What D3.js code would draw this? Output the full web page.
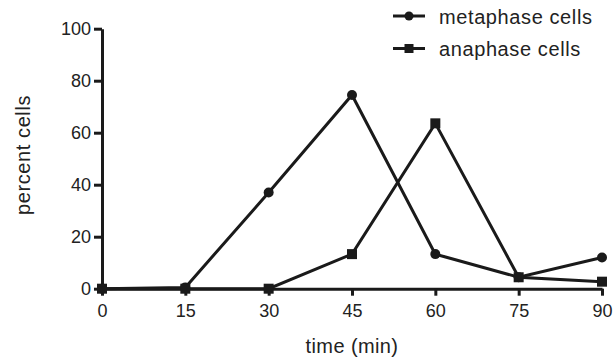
<!DOCTYPE html>
<html><head><meta charset="utf-8">
<script src="https://cdn.jsdelivr.net/npm/d3@7"></script>
<style>body{margin:0;background:#fff}svg{display:block}text{font-family:"Liberation Sans",Arial,sans-serif;fill:#222}</style>
</head><body><svg id="c" width="616" height="364"></svg>
<script>
const times = [0, 15, 30, 45, 60, 75, 90];
const metaphase = [0, 0.5, 37, 74.5, 13.3, 4.4, 12];
const anaphase = [0, 0, 0, 13.3, 63.6, 4.4, 2.7];
const yTicks = [0, 20, 40, 60, 80, 100];
const seriesNames = ["metaphase cells", "anaphase cells"];

const svg = d3.select("#c");
const x = d3.scaleLinear().domain([0, 90]).range([102, 602]);
const y = d3.scaleLinear().domain([0, 100]).range([288.7, 28.7]);
const col = "#1a1a1a";
const ff = '"Liberation Sans",Arial,sans-serif';

const xAxis = svg.append("g").attr("transform", `translate(0,${y(0)})`)
  .call(d3.axisBottom(x).tickValues(times).tickSize(7).tickPadding(9).tickSizeOuter(0));
const yAxis = svg.append("g").attr("transform", `translate(${x(0)},0)`)
  .call(d3.axisLeft(y).tickValues(yTicks).tickSize(8).tickPadding(3).tickSizeOuter(0));
[xAxis, yAxis].forEach(a => {
  a.select(".domain").attr("stroke", col).attr("stroke-width", 3);
  a.selectAll(".tick line").attr("stroke", col).attr("stroke-width", 3);
  a.selectAll(".tick text").attr("fill", "#222").style("font-size", "18px").style("font-family", ff);
});

const line = d3.line().x((d, i) => x(times[i])).y(d => y(d));
[metaphase, anaphase].forEach(s => {
  svg.append("path").datum(s).attr("d", line).attr("fill", "none")
    .attr("stroke", col).attr("stroke-width", 3).attr("stroke-linejoin", "miter");
});
svg.append("g").selectAll("circle").data(metaphase).join("circle")
  .attr("cx", (d, i) => x(times[i])).attr("cy", d => y(d)).attr("r", 5).attr("fill", col);
svg.append("g").selectAll("rect").data(anaphase).join("rect")
  .attr("x", (d, i) => x(times[i]) - 5).attr("y", d => y(d) - 5)
  .attr("width", 10).attr("height", 10).attr("fill", col);

// legend
const lg = svg.append("g");
seriesNames.forEach((name, i) => {
  const ly = 16 + i * 32.5;
  lg.append("line").attr("x1", 393).attr("x2", 425).attr("y1", ly).attr("y2", ly)
    .attr("stroke", col).attr("stroke-width", 3);
  if (i === 0) lg.append("circle").attr("cx", 409).attr("cy", ly).attr("r", 4.5).attr("fill", col);
  else lg.append("rect").attr("x", 404.5).attr("y", ly - 4.5).attr("width", 9).attr("height", 9).attr("fill", col);
  lg.append("text").attr("x", 439).attr("y", ly + 7.5).style("font-size", "20px")
    .style("letter-spacing", "0.6px").text(name);
});

svg.append("text").attr("x", 352).attr("y", 353).attr("text-anchor", "middle")
  .style("font-size", "20px").style("letter-spacing", "0.4px").text("time (min)");
svg.append("text").attr("transform", `translate(30,155) rotate(-90)`)
  .attr("text-anchor", "middle").style("font-size", "20px").style("letter-spacing", "0.6px").text("percent cells");
</script></body></html>
